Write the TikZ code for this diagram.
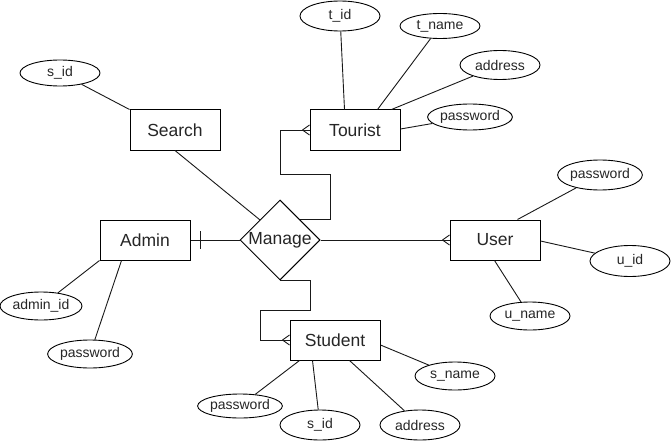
\documentclass[tikz,border=0pt]{standalone}
\usepackage{fontspec}
\setmainfont{Liberation Sans}
\usetikzlibrary{shapes.geometric,calc}
\newcommand\crowfootW[1]{%
  \draw[conn] ($(#1.west)+(-7,0)$) -- ($(#1.west)+(0,-5)$);
  \draw[conn] ($(#1.west)+(-7,0)$) -- ($(#1.west)+(0,5)$);}
\begin{document}
\begin{tikzpicture}[x=1pt,y=-1pt,
  conn/.style={draw=black!90,line width=0.9pt},
  entity/.style={draw=black,line width=1pt,minimum width=90pt,minimum height=40pt,inner sep=0pt,
    font=\fontsize{17.5}{20}\selectfont,text=black!85},
  attr/.style={draw=black,line width=0.9pt,ellipse,minimum width=80pt,minimum height=28pt,inner sep=0pt,
    font=\fontsize{14}{16}\selectfont,text=black!85},
  rel/.style={draw=black,line width=1pt,diamond,aspect=1,minimum width=80pt,minimum height=80pt,inner sep=0pt,
    font=\fontsize{17.5}{20}\selectfont,text=black!85}]
\fill[white] (0,0) rectangle (671,441);
\useasboundingbox (0,0) rectangle (671,441);
% relationship and entities
\node[rel] (manage) at (280,240) {Manage};
\node[entity] (admin) at (145,240) {Admin};
\node[entity] (search) at (175,130) {Search};
\node[entity] (tourist) at (355,130) {Tourist};
\node[entity] (user) at (495,240) {User};
\node[entity] (student) at (335,340) {Student};
% attributes
\node[attr,minimum height=26pt] (sid1) at (60,73) {s\_id};
\node[attr,minimum height=30pt] (tid) at (340,16) {t\_id};
\node[attr,minimum height=25pt] (tname) at (440,26) {t\_name};
\node[attr,minimum height=29pt] (taddr) at (500,65) {address};
\node[attr,minimum height=26pt] (tpass) at (470,117) {password};
\node[attr,minimum height=30pt] (upass) at (600,175) {password};
\node[attr,minimum height=31pt] (uid) at (630,261) {u\_id};
\node[attr,minimum height=28pt] (uname) at (530,316) {u\_name};
\node[attr,minimum width=82pt,minimum height=28pt] (adminid) at (41,306) {admin\_id};
\node[attr,minimum height=28pt] (apass) at (90,354) {password};
\node[attr,minimum width=82pt,minimum height=24pt] (spass) at (240,406) {password};
\node[attr,minimum height=30pt] (sid2) at (320,425) {s\_id};
\node[attr,minimum height=30pt] (saddr) at (420,425) {address};
\node[attr,minimum height=28pt] (sname) at (455,376) {s\_name};
% attribute links
\draw[conn] (sid1) -- (search.north west);
\draw[conn] (tid) -- ($(tourist.north west)+(35,0)$);
\draw[conn] (tname) -- ($(tourist.north west)+(68,0)$);
\draw[conn] (taddr) -- ($(tourist.north west)+(82,0)$);
\draw[conn] (tpass) -- ($(tourist.east)+(0,-1)$);
\draw[conn] (upass) -- ($(user.north west)+(68,0)$);
\draw[conn] (uid) -- ($(user.east)+(0,1)$);
\draw[conn] (uname) -- ($(user.south west)+(45,0)$);
\draw[conn] (adminid) -- (admin.south west);
\draw[conn] (apass) -- ($(admin.south west)+(22,0)$);
\draw[conn] (spass) -- ($(student.south west)+(10,0)$);
\draw[conn] (sid2) -- ($(student.south west)+(23,0)$);
\draw[conn] (saddr) -- ($(student.south west)+(60,0)$);
\draw[conn] (sname) -- ($(student.east)+(0,5)$);
% relationship links
\draw[conn] (search.south) -- (manage.north west);
\draw[conn] (manage.west) -- (admin.east);
\draw[conn] ($(admin.east)+(10,-9)$) -- ($(admin.east)+(10,9)$);
\draw[conn] (manage.east) -- (user.west);
\crowfootW{user}
\draw[conn] (manage.north east) -- ++(30,0) -- ++(0,-45) -- ++(-50,0) |- (tourist.west);
\crowfootW{tourist}
\draw[conn] (manage.south) -- ++(30,0) -- ++(0,30) -- ++(-50,0) |- (student.west);
\crowfootW{student}
\end{tikzpicture}
\end{document}
